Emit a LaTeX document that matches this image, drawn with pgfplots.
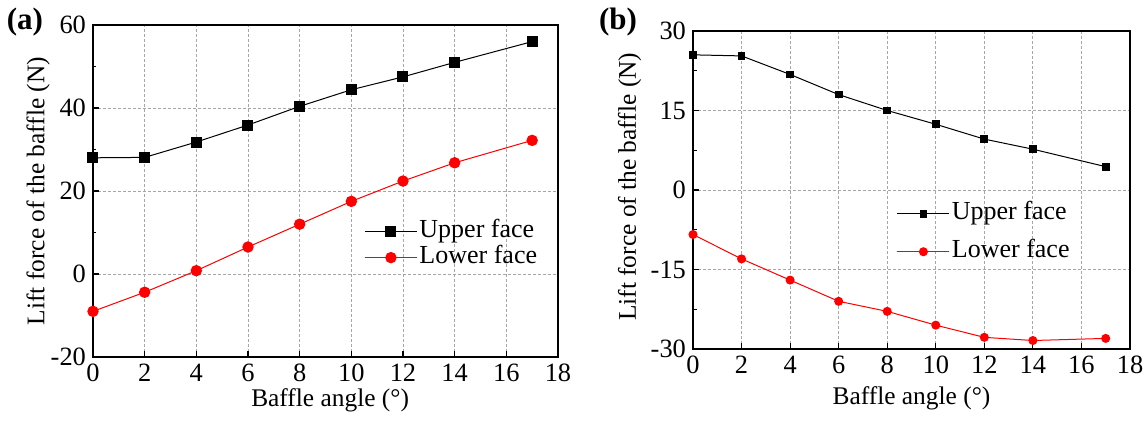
\documentclass[border=0pt]{standalone}
\usepackage{pgfplots}
\pgfplotsset{compat=1.18}
\usepackage{fontspec}
\setmainfont{Liberation Serif}
\begin{document}
\begin{tikzpicture}
\pgfplotsset{
  myaxis/.style={
    scale only axis,
    xmin=0, xmax=18,
    xtick={0,2,...,18},
    axis line style={line width=0.75pt},
    tick style={line width=0.6pt, black},
    major tick length=3pt,
    minor tick length=1.75pt,
    tick align=inside,
    xtick pos=bottom, ytick pos=left,
    minor y tick num=1,
    grid=major,
    major grid style={gray!70, dash pattern=on 1.5pt off 1pt, line width=0.4pt},
    tick label style={font=\fontsize{13.2}{15}\selectfont},
    label style={font=\fontsize{12.7}{15}\selectfont},
    /pgf/number format/assume math mode=true,
    xlabel={Baffle angle (°)},
    ylabel={Lift force of the baffle (N)},
    legend cell align=left,
    legend style={draw=none, fill=none, font=\fontsize{13}{15}\selectfont,
      nodes={inner sep=1pt, text height=8.5pt, text depth=2.5pt}},
    legend image code/.code={
      \draw[mark repeat=2,mark phase=2] plot coordinates {(0pt,0pt)(13pt,0pt)(26pt,0pt)};},
  }
}
\useasboundingbox (-46.5pt,-33pt) rectangle (527.5pt,178.5pt);
\node[font=\bfseries\fontsize{15.5}{17}\selectfont] at (-34pt,167.5pt) {(a)};
\node[font=\bfseries\fontsize{15.5}{17}\selectfont] at (262.5pt,167.5pt) {(b)};
\begin{axis}[myaxis,
  at={(0pt,0pt)}, anchor=south west,
  width=232.5pt, height=166pt,
  ymin=-20, ymax=60, ytick={-20,0,20,40,60},
  xlabel style={at={(axis description cs:0.51,-0.13)}, anchor=center},
  ylabel style={at={(axis description cs:-0.118,0.5)}, anchor=center},
  legend style={at={(axis description cs:0.57,0.43)}, anchor=north west},
]
\addplot[black, line width=0.5pt, mark=square*, mark size=2.5pt, mark options={solid}]
  coordinates {(0,28.0)(2,28.1)(4,31.8)(6,35.9)(8,40.4)(10,44.4)(12,47.5)(14,51.0)(17,56.0)};
\addlegendentry{Upper face}
\addplot[red, line width=0.5pt, mark=*, mark size=2.6pt, mark options={solid}]
  coordinates {(0,-9.0)(2,-4.4)(4,0.8)(6,6.5)(8,12.0)(10,17.5)(12,22.4)(14,26.8)(17,32.2)};
\addlegendentry{Lower face}
\end{axis}
\begin{axis}[myaxis,
  at={(300pt,4pt)}, anchor=south west,
  width=218.5pt, height=159pt,
  ymin=-30, ymax=30, ytick={-30,-15,0,15,30},
  xlabel style={at={(axis description cs:0.5,-0.154)}, anchor=center},
  ylabel style={at={(axis description cs:-0.145,0.51)}, anchor=center},
  legend style={at={(axis description cs:0.452,0.48)}, anchor=north west,
    row sep=6pt},
]
\addplot[black, line width=0.5pt, mark=square*, mark size=1.7pt, mark options={solid}]
  coordinates {(0,25.5)(2,25.3)(4,21.8)(6,18.0)(8,15.0)(10,12.4)(12,9.6)(14,7.7)(17,4.4)};
\addlegendentry{Upper face}
\addplot[red, line width=0.5pt, mark=*, mark size=2pt, mark options={solid}]
  coordinates {(0,-8.4)(2,-13.0)(4,-17.0)(6,-21.0)(8,-22.9)(10,-25.5)(12,-27.8)(14,-28.4)(17,-28.0)};
\addlegendentry{ Lower face}
\end{axis}
\end{tikzpicture}
\end{document}
